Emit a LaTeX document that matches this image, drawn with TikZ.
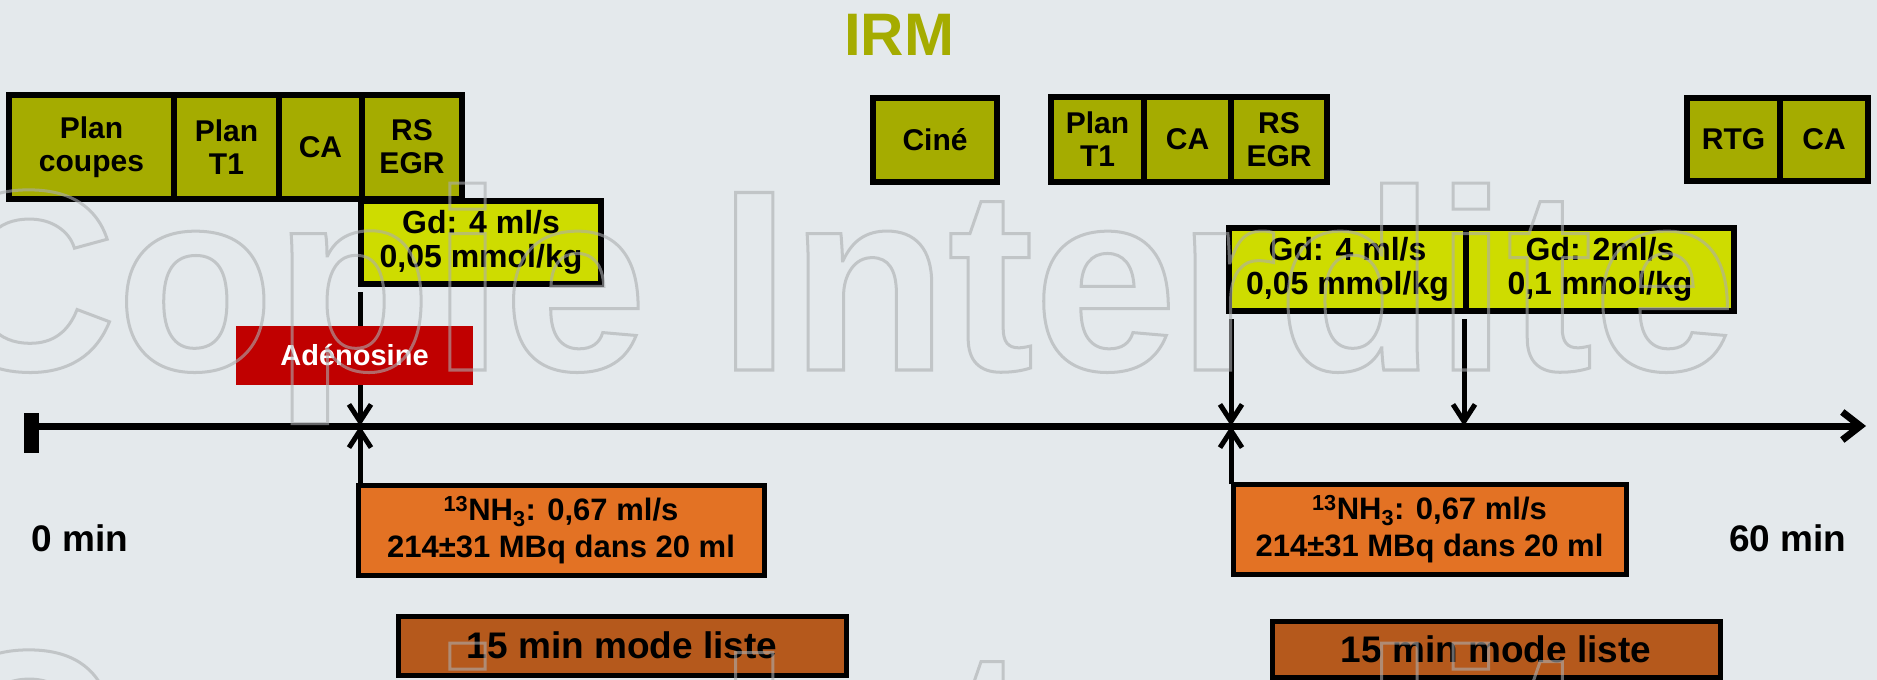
\documentclass[tikz,border=0pt]{standalone}
\usepackage{fontspec}
\setmainfont{Liberation Sans}
\usepackage{xcolor}
\usepackage{tikz}
\usetikzlibrary{arrows.meta,positioning,calc}
\definecolor{SlideBg}{HTML}{E4E9EC}
\definecolor{IrmOlive}{HTML}{A5AC00}
\definecolor{GdLime}{HTML}{CEDC00}
\definecolor{AdenoRed}{HTML}{C00000}
\definecolor{PetOrange}{HTML}{E37224}
\definecolor{ListBrown}{HTML}{B5591C}
\definecolor{WmGray}{HTML}{ABADAF}
\newcommand{\outlinetext}[1]{\special{pdf:literal direct 3 w 1 Tr}#1\special{pdf:literal direct 0 Tr}}

\begin{document}
\begin{tikzpicture}[x=1pt,y=-1pt,
    box/.style={draw=black,line width=6pt,outer sep=0pt,inner sep=0pt,align=center,
      font=\fontsize{30}{33}\selectfont\bfseries},
    irmbox/.style={box,fill=IrmOlive,minimum width=#1},
    gdbox/.style={box,fill=GdLime,minimum width=#1,minimum height=83pt,
      font=\fontsize{32}{34}\selectfont\bfseries},
    petbox/.style={box,fill=PetOrange,line width=5pt,minimum height=90pt,
      font=\fontsize{31}{37}\selectfont\bfseries},
    listbox/.style={box,fill=ListBrown,line width=5pt,minimum width=448pt,
      font=\fontsize{37}{40}\selectfont\bfseries},
    timelabel/.style={font=\fontsize{37}{40}\selectfont\bfseries},
    doseline/.style={line width=5pt,-{Straight Barb[length=17pt,width=22pt]}},
    watermark/.style={anchor=base west,inner sep=0pt,text=WmGray,
      font=\fontsize{258}{258}\selectfont\bfseries}]
  \useasboundingbox (0,0) rectangle (1877,680);
  \fill[SlideBg] (0,0) rectangle (1877,680);

  \node[IrmOlive,font=\fontsize{60}{60}\selectfont\bfseries] (irm) at (899,35) {IRM};

  % IRM sequences
  \node[irmbox=165pt,minimum height=104pt,anchor=north west] (plancoupes) at (9,95) {Plan\\coupes};
  \node[irmbox=105pt,minimum height=104pt,right=0pt of plancoupes] (plantA) {Plan\\T1};
  \node[irmbox=83pt,minimum height=104pt,right=0pt of plantA] (caA) {CA};
  \node[irmbox=100pt,minimum height=104pt,right=0pt of caA] (rsegrA) {RS\\EGR};
  \node[irmbox=124pt,minimum height=84pt,anchor=north west] (cine) at (873,98) {Ciné};
  \node[irmbox=93pt,minimum height=85pt,anchor=north west] (plantB) at (1051,97) {Plan\\T1};
  \node[irmbox=87pt,minimum height=85pt,right=0pt of plantB] (caB) {CA};
  \node[irmbox=96pt,minimum height=85pt,right=0pt of caB] (rsegrB) {RS\\EGR};
  \node[irmbox=93pt,minimum height=83pt,anchor=north west] (rtg) at (1687,98) {RTG};
  \node[irmbox=88pt,minimum height=83pt,right=0pt of rtg] (caC) {CA};

  % gadolinium
  \node[gdbox=240pt,anchor=north west] (gdA) at (361,201) {Gd: 4 ml/s\\0,05 mmol/kg};
  \node[gdbox=237pt,anchor=north west] (gdB) at (1229,228) {Gd: 4 ml/s\\0,05 mmol/kg};
  \node[gdbox=268pt,right=0pt of gdB] (gdC) {Gd: 2ml/s\\0,1 mmol/kg};

  % time axis
  \coordinate (tstart) at (24,426);
  \coordinate (tend) at (1866,426);
  \coordinate (tA) at (360,426);
  \coordinate (tB) at (1231,426);
  \coordinate (tC) at (1464,426);
  \fill (24,413) rectangle (39,453);
  \draw[line width=7pt,-{Straight Barb[length=18pt,width=28pt]}] (tstart) -- (tend);

  \draw[doseline] ($(tA |- gdA.south)+(0,8)$) -- (tA);
  \draw[doseline] ($(tB |- gdB.south)+(0,8)$) -- (tB);
  \draw[doseline] ($(tC |- gdC.south)+(0,8)$) -- (tC);

  \node[fill=AdenoRed,text=white,minimum width=237pt,minimum height=59pt,inner sep=0pt,
    font=\fontsize{29}{29}\selectfont\bfseries] (adeno) at (354.5,355.5) {Adénosine};

  % PET
  \node[petbox,minimum width=406pt,anchor=north west] (nhA) at (358,485)
    {\textsuperscript{13}NH\textsubscript{3}: 0,67 ml/s\\214±31 MBq dans 20 ml};
  \node[petbox,minimum width=393pt,anchor=north west] (nhB) at (1233,484)
    {\textsuperscript{13}NH\textsubscript{3}: 0,67 ml/s\\214±31 MBq dans 20 ml};
  \draw[doseline] (tA |- nhA.north) -- (tA);
  \draw[doseline] (tB |- nhB.north) -- (tB);

  \node[listbox,minimum height=59pt,anchor=north west] (listA) at (398,616) {15 min mode liste};
  \node[listbox,minimum height=56pt,anchor=north west] (listB) at (1272,621) {15 min mode liste};

  \node[timelabel] (zero) at (80,538) {0 min};
  \node[timelabel] (sixty) at (1788,538) {60 min};

  \begin{scope}[opacity=0.6]
    \clip (0,0) rectangle (1877,680);
    \node[watermark] (wmA) at (-70,370) {\outlinetext{Copie Interdite}};
    \node[watermark] (wmB) at (-70,830) {\outlinetext{Copie Interdite}};
  \end{scope}
\end{tikzpicture}
\end{document}
